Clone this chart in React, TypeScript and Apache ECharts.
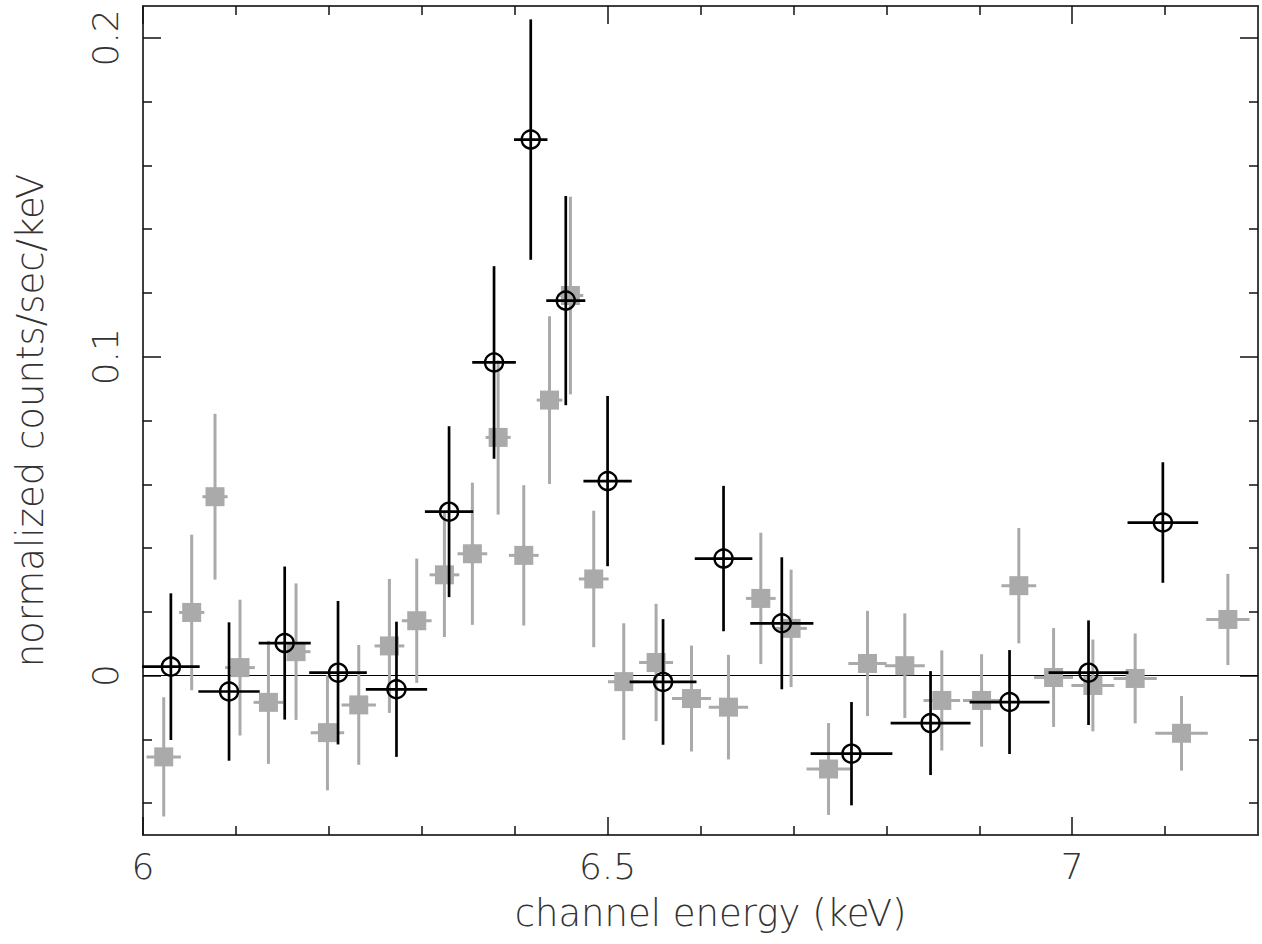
import React, { useEffect, useRef } from "react";
import * as echarts from "echarts";

// ---- data ----
// Grey squares (data set 1)
const greyX = [6.0223, 6.0524, 6.0775, 6.1044, 6.135, 6.1647, 6.1985, 6.2322, 6.2652, 6.2946, 6.3244, 6.3545, 6.3822, 6.4098, 6.4375, 6.46, 6.4851, 6.5174, 6.5522, 6.5903, 6.6301, 6.6649, 6.6975, 6.7378, 6.7797, 6.8199, 6.8597, 6.9025, 6.9426, 6.98, 7.0223, 7.0678, 7.1177, 7.1676];
const greyY = [-0.0255, 0.0198, 0.0561, 0.0025, -0.0084, 0.0075, -0.0179, -0.0092, 0.0093, 0.0172, 0.0316, 0.0382, 0.0747, 0.0377, 0.0864, 0.1192, 0.0303, -0.0019, 0.0041, -0.0072, -0.0099, 0.0242, 0.0148, -0.0293, 0.0038, 0.0031, -0.0078, -0.0078, 0.0282, -0.0006, -0.0031, -0.0009, -0.0181, 0.0176];
const greyXErr = [0.0185, 0.0136, 0.0136, 0.016, 0.016, 0.0156, 0.018, 0.0185, 0.016, 0.016, 0.016, 0.016, 0.0135, 0.016, 0.0138, 0.0138, 0.016, 0.017, 0.0183, 0.021, 0.0212, 0.016, 0.017, 0.0237, 0.0206, 0.0215, 0.0197, 0.02, 0.0187, 0.021, 0.0231, 0.0233, 0.0283, 0.0233];
const greyYErr = [0.0187, 0.0244, 0.026, 0.0213, 0.0193, 0.0214, 0.0181, 0.0188, 0.021, 0.0195, 0.0195, 0.0223, 0.0242, 0.022, 0.0263, 0.031, 0.0214, 0.0183, 0.0184, 0.0166, 0.0164, 0.0206, 0.0184, 0.0144, 0.0165, 0.0164, 0.0157, 0.0145, 0.0181, 0.0155, 0.0144, 0.0141, 0.0117, 0.0143];

// Black open circles (data set 2)
const blackX = [6.030, 6.0926, 6.1525, 6.2099, 6.2728, 6.3294, 6.3778, 6.4173, 6.455, 6.5, 6.5597, 6.6248, 6.6875, 6.7625, 6.8476, 6.9326, 7.0176, 7.0976];
const blackY = [0.0028, -0.005, 0.0102, 0.0009, -0.0043, 0.0514, 0.0982, 0.1681, 0.1176, 0.061, -0.002, 0.0367, 0.0164, -0.0245, -0.0149, -0.0083, 0.0009, 0.048];
const blackXErr = [0.031, 0.033, 0.028, 0.031, 0.033, 0.026, 0.0235, 0.018, 0.021, 0.026, 0.036, 0.031, 0.034, 0.044, 0.043, 0.043, 0.043, 0.038];
const blackYErr = [0.023, 0.0217, 0.024, 0.0225, 0.0212, 0.0268, 0.0302, 0.0377, 0.0328, 0.0267, 0.0197, 0.0228, 0.0207, 0.0162, 0.0163, 0.0163, 0.0164, 0.0189];

// Axes
const X_MIN = 6;
const X_MAX = 7.2;
const Y_MIN = -0.05;
const Y_MAX = 0.21;
const xMajorTicks = [6, 6.5, 7];
const xMinorTicks = [6.1, 6.2, 6.3, 6.4, 6.6, 6.7, 6.8, 6.9, 7.1];
const yMajorTicks = [0, 0.1, 0.2];
const yMinorTicks = [-0.04, -0.02, 0.02, 0.04, 0.06, 0.08, 0.12, 0.14, 0.16, 0.18];
const xTitle = "channel energy (keV)";
const yTitle = "normalized counts/sec/keV";

const FONT = "DejaVu Sans";
const TEXT_COLOR = "#333";
const GREY = "#aaaaaa";

function makeRows(xs: number[], ys: number[], xe: number[], ye: number[]) {
  return xs.map((x, i) => [x, ys[i], xe[i], ye[i]]);
}

function errorRenderer(color: string, width: number) {
  return (params: any, api: any) => {
    const x = api.value(0);
    const y = api.value(1);
    const xe = api.value(2);
    const ye = api.value(3);
    const l = api.coord([x - xe, y]);
    const r = api.coord([x + xe, y]);
    const t = api.coord([x, y + ye]);
    const b = api.coord([x, y - ye]);
    return {
      type: "group",
      children: [
        { type: "line", shape: { x1: l[0], y1: l[1], x2: r[0], y2: r[1] }, style: { stroke: color, lineWidth: width } },
        { type: "line", shape: { x1: t[0], y1: t[1], x2: b[0], y2: b[1] }, style: { stroke: color, lineWidth: width } },
      ],
    };
  };
}

const lineStyle = { color: "#333", width: 1.5 };
const tickStyle = { color: "#111", width: 1.5 };

function xAxisDef(position: string, ticks: number[], len: number, withLabel: boolean) {
  const ax: any = {
    type: "value",
    position,
    min: X_MIN,
    max: X_MAX,
    axisLine: { show: true, onZero: false, lineStyle },
    axisTick: { show: true, inside: true, length: len, customValues: ticks, lineStyle: tickStyle },
    axisLabel: withLabel
      ? { show: true, customValues: xMajorTicks, margin: 13, fontSize: 36, fontFamily: FONT, fontWeight: 200, color: TEXT_COLOR }
      : { show: false },
    splitLine: { show: false },
  };
  if (withLabel) {
    ax.name = xTitle;
    ax.nameLocation = "middle";
    ax.nameGap = 60;
    ax.nameTextStyle = { fontSize: 37, fontFamily: FONT, fontWeight: 200, color: TEXT_COLOR, padding: [0, 0, 0, 20] };
  }
  return ax;
}

function yAxisDef(position: string, ticks: number[], len: number, withLabel: boolean) {
  const ax: any = {
    type: "value",
    position,
    min: Y_MIN,
    max: Y_MAX,
    axisLine: { show: true, onZero: false, lineStyle },
    axisTick: { show: true, inside: true, length: len, customValues: ticks, lineStyle: tickStyle },
    axisLabel: withLabel
      ? { show: true, customValues: yMajorTicks, rotate: 90, margin: 20, fontSize: 36, fontFamily: FONT, fontWeight: 200, color: TEXT_COLOR }
      : { show: false },
    splitLine: { show: false },
  };
  if (withLabel) {
    ax.name = yTitle;
    ax.nameLocation = "middle";
    ax.nameRotate = 90;
    ax.nameGap = 94;
    ax.nameTextStyle = { fontSize: 37, fontFamily: FONT, fontWeight: 200, color: TEXT_COLOR };
  }
  return ax;
}

export default function App() {
  const ref = useRef<HTMLDivElement>(null);

  useEffect(() => {
    if (!ref.current) return;
    const chart = echarts.init(ref.current, null, { renderer: "svg" });
    const option: any = {
      animation: false,
      backgroundColor: "#ffffff",
      grid: { left: 143, right: 4, top: 6, bottom: 109, containLabel: false },
      xAxis: [
        xAxisDef("bottom", xMajorTicks, 18, true),
        xAxisDef("bottom", xMinorTicks, 9, false),
        xAxisDef("top", xMajorTicks, 18, false),
        xAxisDef("top", xMinorTicks, 9, false),
      ],
      yAxis: [
        yAxisDef("left", yMajorTicks, 18, true),
        yAxisDef("left", yMinorTicks, 9, false),
        yAxisDef("right", yMajorTicks, 18, false),
        yAxisDef("right", yMinorTicks, 9, false),
      ],
      series: [
        {
          type: "custom",
          name: "grey errors",
          z: 2,
          renderItem: errorRenderer(GREY, 3),
          encode: { x: 0, y: 1 },
          data: makeRows(greyX, greyY, greyXErr, greyYErr),
          silent: true,
          markLine: {
            silent: true,
            symbol: ["none", "none"],
            label: { show: false },
            lineStyle: { color: "#000", width: 1, type: "solid" },
            data: [{ yAxis: 0 }],
            z: 1,
          },
        },
        {
          type: "scatter",
          name: "grey",
          z: 3,
          symbol: "rect",
          symbolSize: 19,
          itemStyle: { color: GREY, opacity: 1 },
          data: greyX.map((x, i) => [x, greyY[i]]),
          silent: true,
        },
        {
          type: "custom",
          name: "black errors",
          z: 4,
          renderItem: errorRenderer("#000", 2.7),
          encode: { x: 0, y: 1 },
          data: makeRows(blackX, blackY, blackXErr, blackYErr),
          silent: true,
        },
        {
          type: "scatter",
          name: "black",
          z: 5,
          symbol: "circle",
          symbolSize: 18,
          itemStyle: { color: "rgba(0,0,0,0)", borderColor: "#000", borderWidth: 2.4, opacity: 1 },
          data: blackX.map((x, i) => [x, blackY[i]]),
          silent: true,
        },
      ],
    };
    chart.setOption(option);
    return () => chart.dispose();
  }, []);

  return (
    <div
      ref={ref}
      style={{ position: "absolute", left: 0, top: 0, width: 1262, height: 944, background: "#fff" }}
    />
  );
}
